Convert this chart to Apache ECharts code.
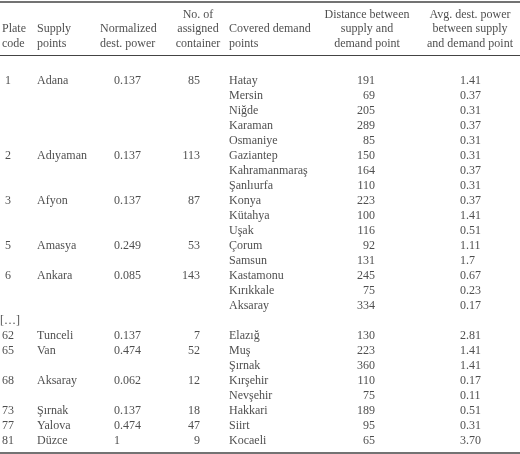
<!DOCTYPE html>
<html><head><meta charset="utf-8">
<script src="https://cdn.jsdelivr.net/npm/echarts@6/dist/echarts.min.js"></script>
<style>html,body{margin:0;padding:0;background:#fff}#c{width:520px;height:454px}</style>
</head><body><div id="c"></div>
<script>
const headers = ["Plate\ncode","Supply\npoints","Normalized\ndest. power","No. of\nassigned\ncontainer","Covered demand\npoints","Distance between\nsupply and\ndemand point","Avg. dest. power\nbetween supply\nand demand point"];
const plateCodes = ["1","2","3","5","6","62","65","68","73","77","81"];
const supplyPoints = ["Adana","Adıyaman","Afyon","Amasya","Ankara","Tunceli","Van","Aksaray","Şırnak","Yalova","Düzce"];
const normPower = ["0.137","0.137","0.137","0.249","0.085","0.137","0.474","0.062","0.137","0.474","1"];
const containers = ["85","113","87","53","143","7","52","12","18","47","9"];
const groupRow = [0,5,8,11,13,17,18,20,22,23,24];
const demandPoints = ["Hatay","Mersin","Niğde","Karaman","Osmaniye","Gaziantep","Kahramanmaraş","Şanlıurfa","Konya","Kütahya","Uşak","Çorum","Samsun","Kastamonu","Kırıkkale","Aksaray","[…]","Elazığ","Muş","Şırnak","Kırşehir","Nevşehir","Hakkari","Siirt","Kocaeli","Bolu"];
const distances = ["191","69","205","289","85","150","164","110","223","100","116","92","131","245","75","334","","130","223","360","110","75","189","95","65","45"];
const avgPower = ["1.41","0.37","0.31","0.37","0.31","0.31","0.37","0.31","0.37","1.41","0.51","1.11","1.7","0.67","0.23","0.17","","2.81","1.41","1.41","0.17","0.11","0.51","0.31","3.70","3.1"];

// demand rows: index i maps to row i, except "[…]" row sits at 16 and is placed at plate column
const FONT = 'Liberation Serif, DejaVu Serif, serif';
const COLOR = '#222';
function col(name, x, rows, texts, align, extra) {
  return {
    type:'scatter', name, symbolSize:0, silent:true,
    data: texts.map((t,i)=>({value:[x, rows[i]], label:{formatter:t}})).filter(d=>d.label.formatter!==''),
    label:Object.assign({show:true, position:'inside', align, verticalAlign:'middle',
      fontFamily:FONT, fontSize:12, color:COLOR}, extra||{})
  };
}
const demandRows = demandPoints.map((_,i)=>i);
const demandNames = demandPoints.map(d=>d==='[…]'?'':d);
const series = [
  col('plate', 8, groupRow, plateCodes, 'center'),
  col('ellipsis', 0, [16], ['[…]'], 'left'),
  col('supply', 37, groupRow, supplyPoints, 'left'),
  col('norm', 114, groupRow, normPower, 'left'),
  col('cont', 200, groupRow, containers, 'right'),
  col('demand', 229, demandRows, demandNames, 'left'),
  col('dist', 375, demandRows, distances, 'right'),
  col('avg', 460, demandRows, avgPower, 'left'),
  {
    type:'scatter', symbolSize:0, silent:true,
    data: headers.map((h,i)=>({value:[[2,37,100,198,229,367,470][i], -2.0], label:{formatter:h, align:['left','left','left','center','left','center','center'][i]}})),
    label:{show:true, position:'inside', verticalAlign:'bottom', lineHeight:14.5, fontFamily:FONT, fontSize:12, color:COLOR},
    markLine:{silent:true, symbol:'none', label:{show:false},
      data:[{yAxis:-5.3, lineStyle:{width:1.5}},{yAxis:-1.73, lineStyle:{width:1}},{yAxis:24.75, lineStyle:{width:1.5}}],
      lineStyle:{color:'#444', type:'solid'}}
  }
];
const chart = echarts.init(document.getElementById('c'));
chart.setOption({
  animation:false,
  grid:{left:0,right:0,top:0,bottom:0},
  xAxis:{type:'value', min:0, max:520, show:false},
  yAxis:{type:'value', min:-5.4, max:24.866, inverse:true, show:false},
  series
});
</script></body></html>
